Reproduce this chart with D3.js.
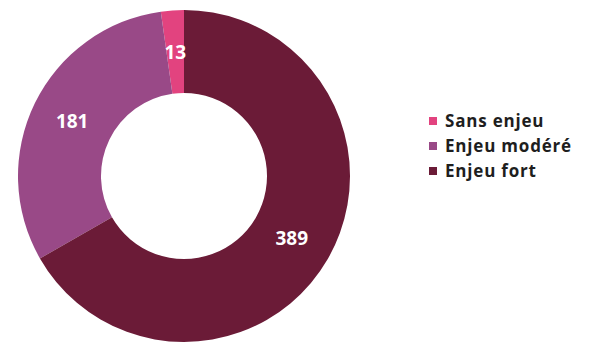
<!DOCTYPE html>
<html>
<head>
<meta charset="utf-8">
<script src="https://cdn.jsdelivr.net/npm/d3@7"></script>
<style>
  html, body { margin: 0; padding: 0; background: #ffffff; }
  svg { display: block; }
</style>
</head>
<body>
<script>
const categories = ["Sans enjeu", "Enjeu modéré", "Enjeu fort"];
const values = [13, 181, 389];
const colors = ["#e2437f", "#994987", "#6b1b37"];

const width = 591, height = 345;
const cx = 184, cy = 176, outerR = 166, innerR = 83;

const svg = d3.select("body").append("svg")
  .attr("width", width).attr("height", height);

const data = categories.map((c, i) => ({ cat: c, value: values[i], color: colors[i] }));

// Drawn counter-clockwise from 12 o'clock so "Enjeu fort" starts at the top going clockwise
const pie = d3.pie().sort(null).value(d => d.value)
  .startAngle(2 * Math.PI).endAngle(0);
const arc = d3.arc().innerRadius(innerR).outerRadius(outerR);

const g = svg.append("g").attr("transform", `translate(${cx},${cy})`);
const arcs = pie(data);

g.selectAll("path").data(arcs).join("path")
  .attr("d", arc)
  .attr("fill", d => d.data.color);

g.selectAll("text").data(arcs).join("text")
  .attr("transform", d => `translate(${arc.centroid(d)})`)
  .attr("text-anchor", "middle")
  .attr("dy", "0.36em")
  .attr("fill", "#ffffff")
  .attr("font-family", "'Open Sans', sans-serif")
  .attr("font-weight", "bold")
  .attr("font-size", 19)
  .text(d => d.data.value);

// Legend
const legend = svg.append("g").attr("transform", "translate(429,121)");
const rows = legend.selectAll("g").data(data).join("g")
  .attr("transform", (d, i) => `translate(0,${i * 25})`);
rows.append("rect")
  .attr("x", 0).attr("y", -4).attr("width", 8).attr("height", 8)
  .attr("fill", d => d.color);
rows.append("text")
  .attr("x", 16).attr("dy", "0.35em")
  .attr("fill", "#1e1e1e")
  .attr("font-family", "'Open Sans', sans-serif")
  .attr("font-weight", "bold")
  .attr("font-size", 17)
  .attr("letter-spacing", 0.8)
  .text(d => d.cat);
</script>
</body>
</html>
